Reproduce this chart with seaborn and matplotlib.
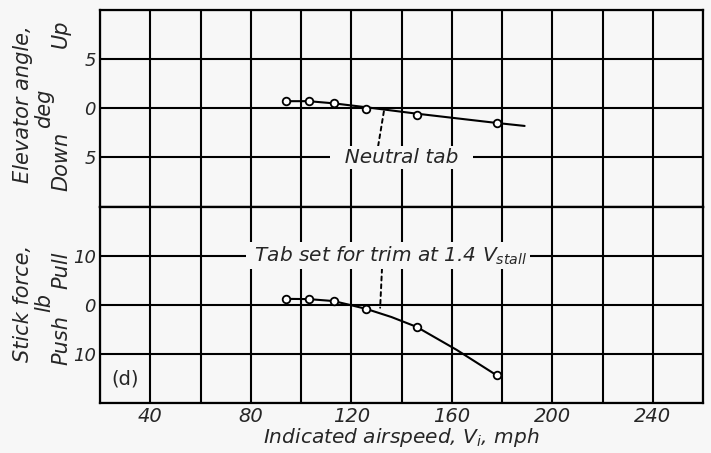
import matplotlib
matplotlib.use("Agg")
import matplotlib.pyplot as plt
import seaborn as sns
import pandas as pd

# data
speed = [94, 103, 113, 126, 146, 178]
elevator = [0.7, 0.75, 0.5, -0.05, -0.65, -1.55]
stick = [1.2, 1.15, 0.75, -0.9, -4.5, -14.4]

# faired curves
fair_elev_speed = [94, 103, 113, 126, 146, 178, 189]
fair_elev = [0.72, 0.72, 0.5, 0.1, -0.55, -1.5, -1.8]
fair_stick_speed = [94, 103, 113, 120, 126, 136, 146, 162, 178]
fair_stick = [1.2, 1.15, 0.75, -0.1, -0.85, -2.5, -4.5, -9.2, -14.4]

x_grid = list(range(20, 261, 20))
x_labels = ["" if v % 40 else str(v) for v in x_grid]
elev_ticks = [-10, -5, 0, 5, 10]
elev_labels = ["", "5", "0", "5", ""]
stick_ticks = [-20, -10, 0, 10, 20]
stick_labels = ["", "10", "0", "10", ""]

pts = pd.DataFrame({"speed": speed, "elevator": elevator, "stick": stick})
fair_e = pd.DataFrame({"speed": fair_elev_speed, "elevator": fair_elev})
fair_s = pd.DataFrame({"speed": fair_stick_speed, "stick": fair_stick})

bg = "#f7f7f7"
sns.set_style("white")
plt.rcParams["font.family"] = ["DejaVu Sans"]
plt.rcParams["font.style"] = "italic"
plt.rcParams["mathtext.fontset"] = "dejavusans"

W, H = 711, 453
fig, (ax1, ax2) = plt.subplots(2, 1, sharex=True, figsize=(W / 100, H / 100), dpi=100)
fig.patch.set_facecolor(bg)
fig.subplots_adjust(left=100 / W, right=703 / W, top=1 - 10 / H, bottom=1 - 403 / H, hspace=0)

for ax in (ax1, ax2):
    ax.set_facecolor(bg)
    ax.set_xlim(20, 260)
    ax.set_xticks(x_grid)
    ax.grid(True, color="black", linewidth=1.5)
    ax.tick_params(axis="x", length=0, labelsize=14, pad=3)
    ax.tick_params(axis="y", length=0, labelsize=13, pad=3)
    for s in ax.spines.values():
        s.set_color("black")
        s.set_linewidth(1.6)
    ax.set_axisbelow(True)

leader = dict(arrowstyle="-", linestyle=(0, (2, 2)), color="black", lw=1.4, shrinkA=0, shrinkB=0)

# elevator angle
ax1.set_ylim(-10, 10)
ax1.set_yticks(elev_ticks)
ax1.set_yticklabels(elev_labels)
sns.lineplot(data=fair_e, x="speed", y="elevator", color="black", linewidth=1.5, ax=ax1, zorder=3)
sns.scatterplot(data=pts, x="speed", y="elevator", marker="o", s=30, facecolor="white",
                edgecolor="black", linewidth=1.3, ax=ax1, zorder=4)
ax1.set_xlabel("")
ax1.set_ylabel("")
ax1.annotate("  Neutral tab  ", xy=(133, -0.3), xytext=(140, -5), fontsize=14.5,
             ha="center", va="center",
             bbox=dict(boxstyle="square,pad=0.1", fc=bg, ec="none"),
             arrowprops=dict(leader, relpos=(0.33, 1.0)), zorder=5)

# stick force
ax2.set_ylim(-20, 20)
ax2.set_yticks(stick_ticks)
ax2.set_yticklabels(stick_labels)
sns.lineplot(data=fair_s, x="speed", y="stick", color="black", linewidth=1.5, ax=ax2, zorder=3)
sns.scatterplot(data=pts, x="speed", y="stick", marker="o", s=30, facecolor="white",
                edgecolor="black", linewidth=1.3, ax=ax2, zorder=4)
ax2.set_ylabel("")
ax2.set_xticklabels(x_labels)
ax2.set_xlabel(r"Indicated airspeed, $V_i$, mph", fontsize=14.5, labelpad=0)
ax2.annotate(r" Tab set for trim at 1.4 $V_{stall}$ ", xy=(131.5, -0.6), xytext=(134.5, 10),
             fontsize=14.5, ha="center", va="center",
             bbox=dict(boxstyle="square,pad=0.1", fc=bg, ec="none"),
             arrowprops=dict(leader, relpos=(0.48, 0.0)), zorder=5)
ax2.text(30, -15.2, "(d)", fontsize=14, style="normal", ha="center", va="center")


def ftext(px, py, s, **kw):
    fig.text(px / W, 1 - py / H, s, rotation=90, ha="center", va="center", fontsize=15, **kw)


ftext(23, 104, "Elevator angle,")
ftext(44, 108, "deg")
ftext(61, 34, "Up")
ftext(61, 161, "Down")
ftext(23, 303, "Stick force,")
ftext(44, 303, "lb")
ftext(61, 270, "Pull")
ftext(61, 340, "Push")

plt.savefig("out.png", dpi=100, facecolor=bg)
